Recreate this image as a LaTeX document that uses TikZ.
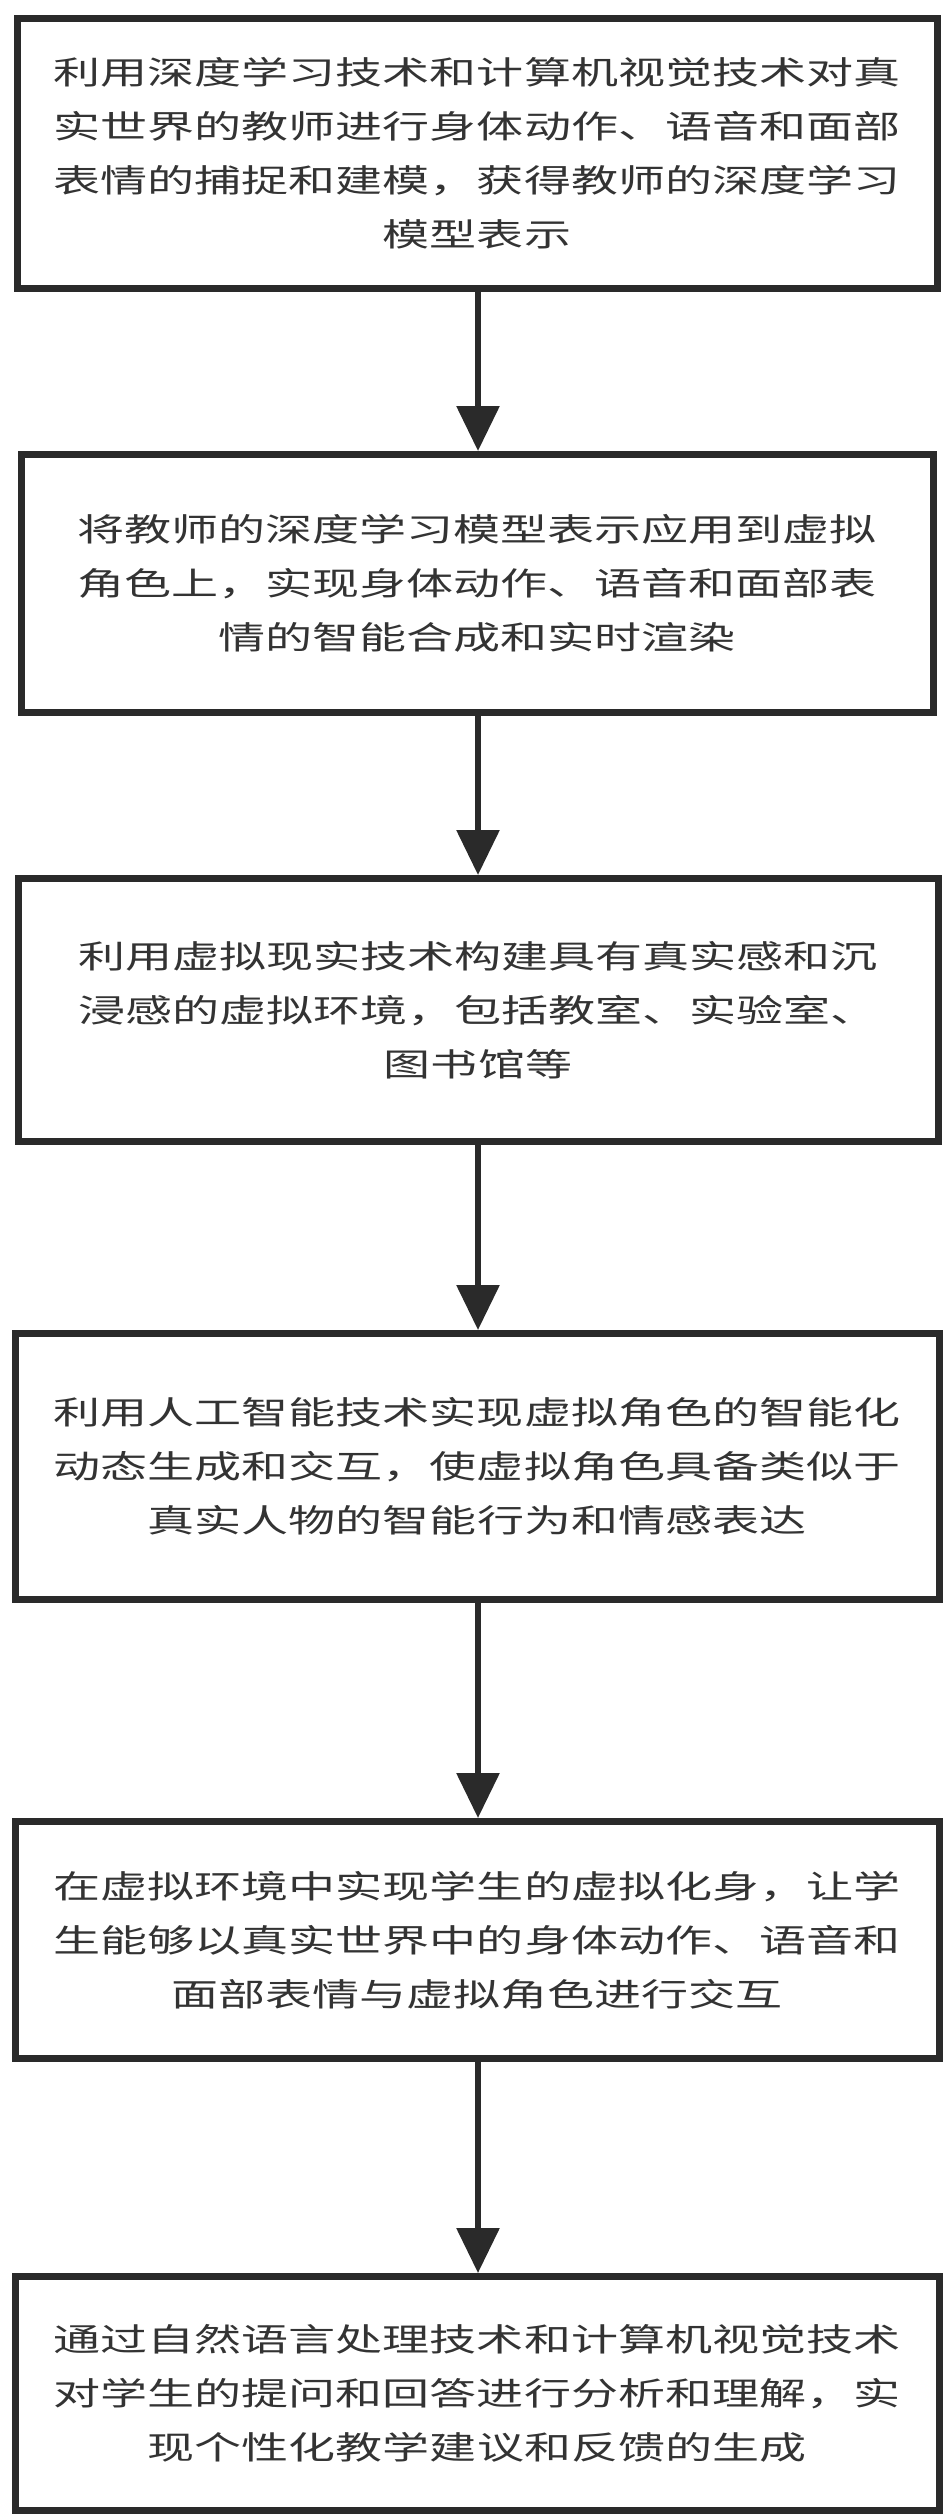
\documentclass[tikz,border=0pt]{standalone}
\usepackage{fontspec}
\setmainfont{Noto Sans CJK SC}
\usetikzlibrary{arrows.meta}
\definecolor{ink}{HTML}{2A2A2A}
\definecolor{txt}{HTML}{333333}
\newcommand{\wl}[1]{\scalebox{1.47}[1]{#1}}
\tikzset{
  box/.style={draw=ink,line width=7pt,minimum width=920pt,anchor=north,inner sep=0pt,
    text=txt,font=\fontsize{32pt}{54pt}\selectfont,align=center},
  arr/.style={draw=ink,line width=6pt,-{Triangle[length=45pt,width=42pt]}}
}
\begin{document}
\begin{tikzpicture}[x=1pt,y=1pt]
\useasboundingbox (0,0) rectangle (951,-2514);
\node[box,minimum height=270pt] (b1) at (477,-15) {\wl{利用深度学习技术和计算机视觉技术对真}\\\wl{实世界的教师进行身体动作、语音和面部}\\\wl{表情的捕捉和建模，获得教师的深度学习}\\\wl{模型表示}};
\node[box,minimum height=258pt,minimum width=912pt] (b2) at (477,-451) {\wl{将教师的深度学习模型表示应用到虚拟}\\\wl{角色上，实现身体动作、语音和面部表}\\\wl{情的智能合成和实时渲染}};
\node[box,minimum height=263pt] (b3) at (478,-875) {\wl{利用虚拟现实技术构建具有真实感和沉}\\\wl{浸感的虚拟环境，包括教室、实验室、}\\\wl{图书馆等}};
\node[box,minimum height=266pt,minimum width=924pt] (b4) at (477,-1330) {\wl{利用人工智能技术实现虚拟角色的智能化}\\\wl{动态生成和交互，使虚拟角色具备类似于}\\\wl{真实人物的智能行为和情感表达}};
\node[box,minimum height=237pt,minimum width=924pt] (b5) at (477,-1818) {\wl{在虚拟环境中实现学生的虚拟化身，让学}\\\wl{生能够以真实世界中的身体动作、语音和}\\\wl{面部表情与虚拟角色进行交互}};
\node[box,minimum height=234pt,minimum width=924pt] (b6) at (477,-2273) {\wl{通过自然语言处理技术和计算机视觉技术}\\\wl{对学生的提问和回答进行分析和理解，实}\\\wl{现个性化教学建议和反馈的生成}};
\draw[arr] (b1.south -| 478,0) -- (b2.north -| 478,0);
\draw[arr] (b2.south -| 478,0) -- (b3.north -| 478,0);
\draw[arr] (b3.south -| 478,0) -- (b4.north -| 478,0);
\draw[arr] (b4.south -| 478,0) -- (b5.north -| 478,0);
\draw[arr] (b5.south -| 478,0) -- (b6.north -| 478,0);
\end{tikzpicture}
\end{document}
